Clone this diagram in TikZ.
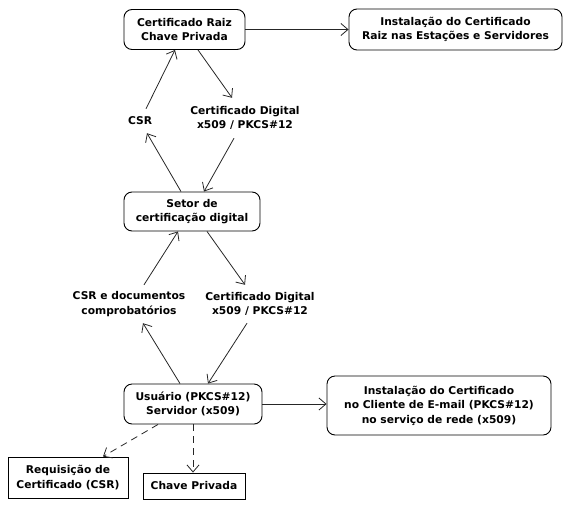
\documentclass[tikz,border=0pt]{standalone}
\usepackage{fontspec}
\setmainfont{DejaVu Sans}
\usetikzlibrary{positioning,arrows.meta,calc}

\begin{document}
\begin{tikzpicture}[
  x=1pt, y=-1pt,
  >={Straight Barb[length=7pt,width=12pt]},
  every node/.style={font=\bfseries\fontsize{10.7}{14.5}\selectfont, align=center},
  roundbox/.style={draw, line width=0.9pt, rounded corners=8pt, inner sep=0pt},
  plainbox/.style={draw, line width=0.9pt, inner sep=0pt},
  lbl/.style={inner sep=0pt, minimum height=40pt},
  arr/.style={->, line width=0.8pt, black!85},
  darr/.style={->, line width=0.8pt, black!85, dash pattern=on 7pt off 5pt}
]
  \useasboundingbox (0,0) rectangle (569,506);
  % caixas
  \node[roundbox, minimum width=121pt, minimum height=40pt] (raiz) at (184.5,29.5) {Certificado Raiz\\Chave Privada};
  \node[roundbox, minimum width=213pt, minimum height=41pt] (instraiz) at (455.5,29.5) {Instalação do Certificado\\Raiz nas Estações e Servidores};
  \node[roundbox, minimum width=136pt, minimum height=39pt] (setor) at (192,211.5) {Setor de\\certificação digital};
  \node[roundbox, minimum width=138pt, minimum height=40pt] (usuario) at (193,404) {Usuário (PKCS\#12)\\Servidor (x509)};
  \node[roundbox, minimum width=224pt, minimum height=59pt] (instcli) at (439,405.5) {Instalação do Certificado\\no Cliente de E-mail (PKCS\#12)\\no serviço de rede (x509)};
  \node[plainbox, minimum width=120pt, minimum height=41pt] (req) at (68,477.5) {Requisição de\\Certificado (CSR)};
  \node[plainbox, minimum width=102pt, minimum height=26pt] (chave) at (194,486) {Chave Privada};
  % rotulos
  \node[lbl, minimum height=24pt] (csr) at (140,121) {CSR};
  \node[lbl] (cdig) at (245,118) {Certificado Digital\\x509 / PKCS\#12};
  \node[lbl, minimum height=38pt] (csrdoc) at (129,304) {CSR e documentos\\comprobatórios};
  \node[lbl, minimum height=38pt] (cdigb) at (260,304) {Certificado Digital\\x509 / PKCS\#12};
  % setas
  \draw[arr] (raiz.east) -- (raiz.east -| instraiz.west);
  \draw[arr] ([xshift=13.5pt]raiz.south) -- ([xshift=-13pt]cdig.north);
  \draw[arr] ([xshift=-11pt]cdig.south) -- ([xshift=12pt]setor.north);
  \draw[arr] ([xshift=-11pt]setor.north) -- ([xshift=7pt]csr.south);
  \draw[arr] ([xshift=6pt]csr.north) -- ([xshift=-9.5pt]raiz.south);
  \draw[arr] ([xshift=15pt]setor.south) -- ([xshift=-15pt]cdigb.north);
  \draw[arr] ([xshift=-13pt]cdigb.south) -- ([xshift=15pt]usuario.north);
  \draw[arr] ([xshift=-13pt]usuario.north) -- ([xshift=14pt]csrdoc.south);
  \draw[arr] ([xshift=15pt]csrdoc.north) -- ([xshift=-14pt]setor.south);
  \draw[arr] (usuario.east) -- (usuario.east -| instcli.west);
  \draw[darr] ([xshift=-35pt]usuario.south) -- ([xshift=35pt]req.north);
  \draw[darr] (usuario.south) -- (usuario.south |- chave.north);
\end{tikzpicture}
\end{document}
